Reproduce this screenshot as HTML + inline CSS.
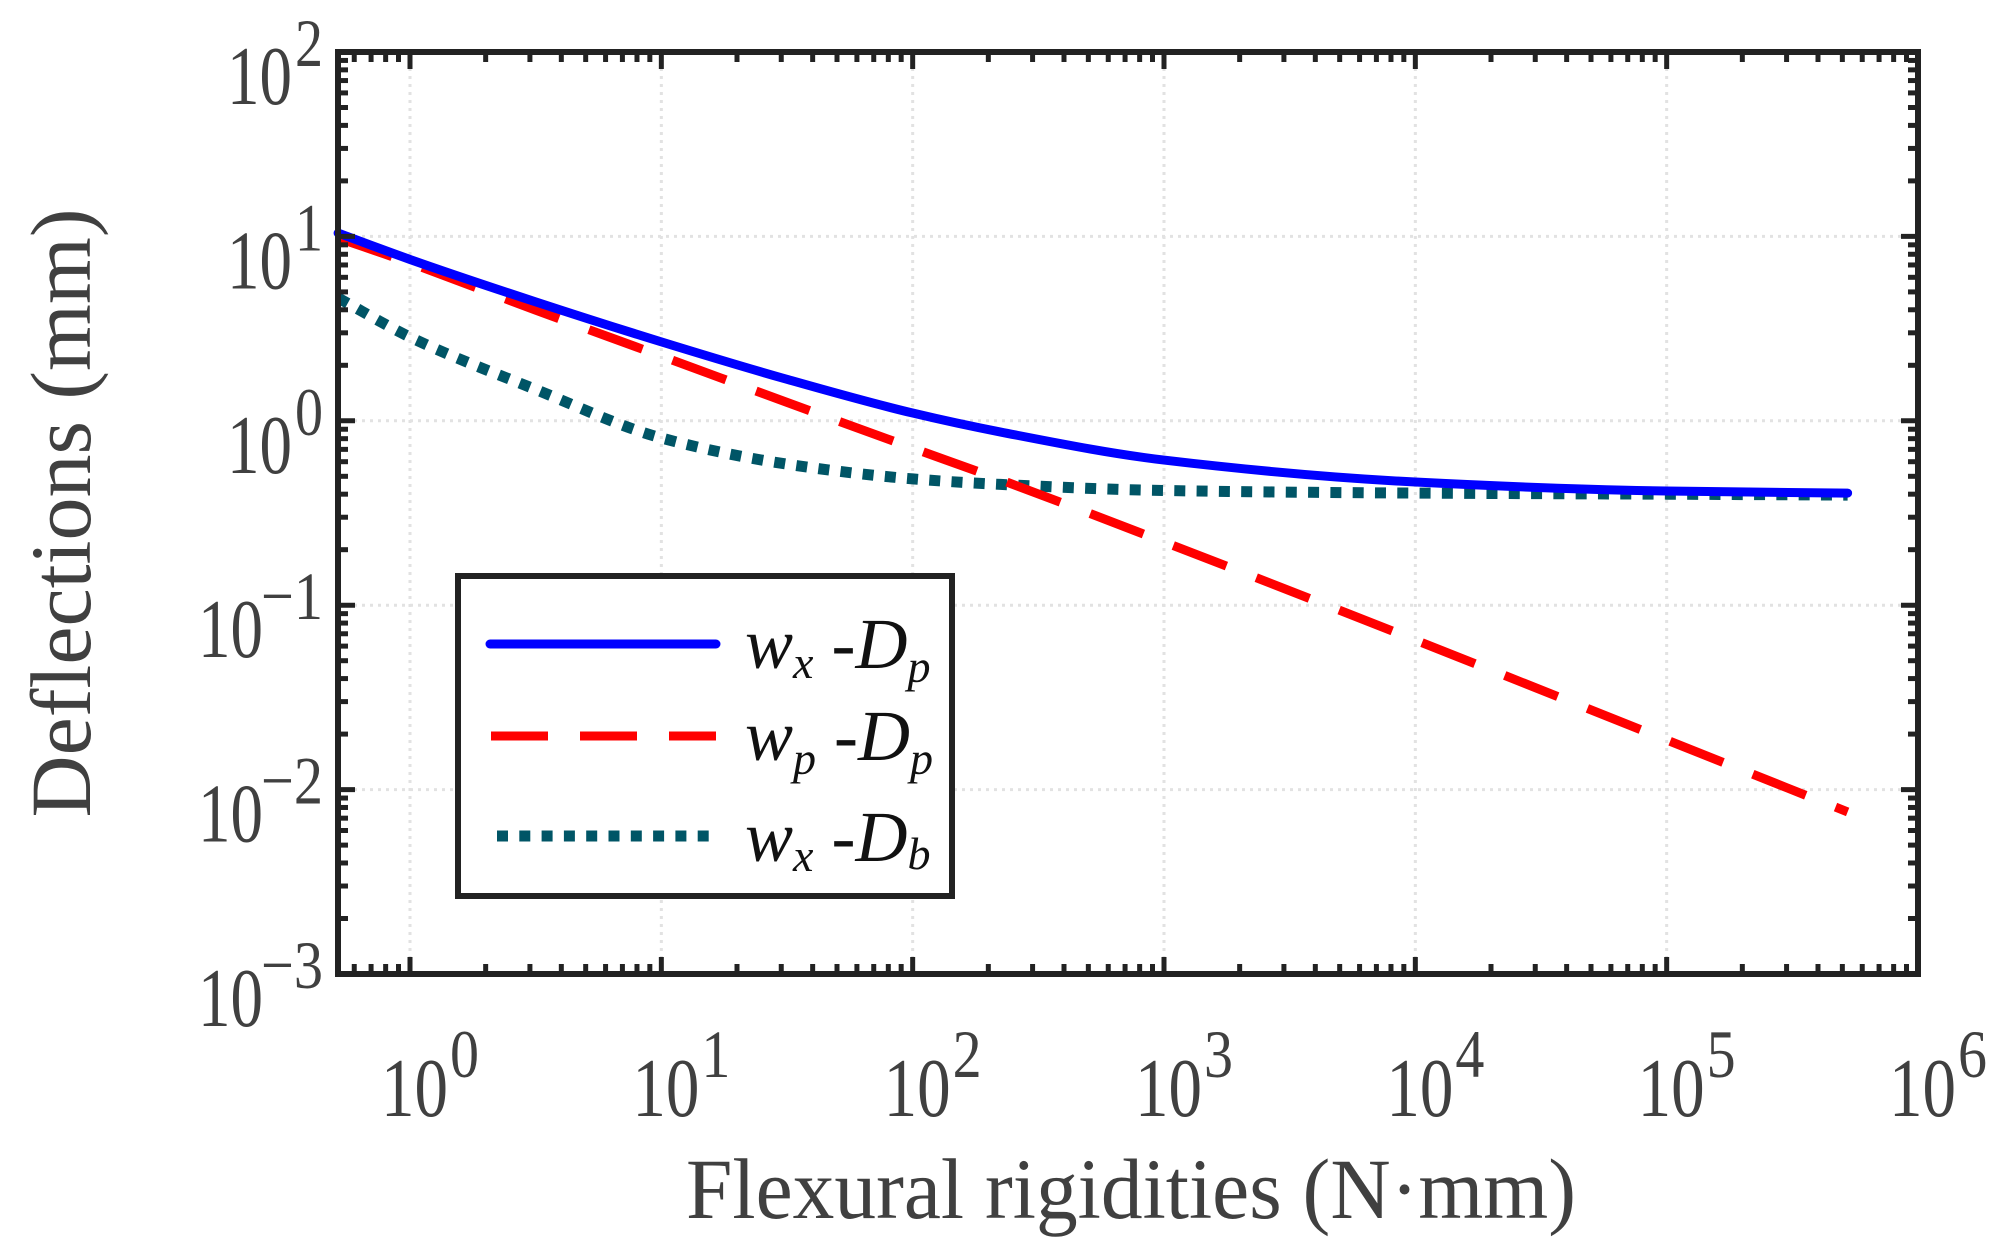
<!DOCTYPE html>
<html><head><meta charset="utf-8"><style>
html,body{margin:0;padding:0;background:#fff;}
svg{display:block;}
text{font-family:"Liberation Serif",serif;}
</style></head><body>
<svg id="chart" width="2012" height="1253" viewBox="0 0 2012 1253" xmlns="http://www.w3.org/2000/svg">
<g id="grid"></g>
<g id="series"></g>
<g id="axes"></g>
<g id="labels"></g>
<text x="686" y="1218" font-size="86" fill="#404040" textLength="890" lengthAdjust="spacingAndGlyphs">Flexural rigidities (N·mm)</text>
<text transform="translate(90,513) rotate(-90)" text-anchor="middle" font-size="86" fill="#404040">Deflections (mm)</text>
<g>
  <rect x="458" y="576" width="494" height="320" fill="#fff" stroke="#222" stroke-width="6"/>
  <line x1="490" y1="644" x2="716" y2="644" stroke="#0000ff" stroke-width="9" stroke-linecap="round"/>
  <line x1="491" y1="736" x2="716" y2="736" stroke="#ff0000" stroke-width="9" stroke-dasharray="57 32"/>
  <line x1="497" y1="836" x2="710" y2="836" stroke="#005566" stroke-width="11" stroke-dasharray="11 11.3"/>
  <text x="745" y="668" font-size="72" fill="#111"><tspan font-style="italic">w</tspan><tspan font-style="italic" font-size="46" dy="10">x</tspan><tspan dy="-10"> -</tspan><tspan font-style="italic">D</tspan><tspan font-style="italic" font-size="46" dy="14">p</tspan></text>
  <text x="745" y="760" font-size="72" fill="#111"><tspan font-style="italic">w</tspan><tspan font-style="italic" font-size="46" dy="14">p</tspan><tspan dy="-14"> -</tspan><tspan font-style="italic">D</tspan><tspan font-style="italic" font-size="46" dy="14">p</tspan></text>
  <text x="745" y="861" font-size="72" fill="#111"><tspan font-style="italic">w</tspan><tspan font-style="italic" font-size="46" dy="10">x</tspan><tspan dy="-10"> -</tspan><tspan font-style="italic">D</tspan><tspan font-style="italic" font-size="46" dy="8">b</tspan></text>
</g>
</svg>
<script>
// data (log10 of values)
const xLogs = [-0.286, 0, 0.5, 1, 1.5, 2, 2.35, 3, 4, 5, 5.72];
const wxDp = [1.018, 0.875, 0.645, 0.428, 0.225, 0.042, -0.061, -0.213, -0.332, -0.381, -0.392];
const wpDp = [0.991, 0.856, 0.6, 0.351, 0.10, -0.148, -0.32, -0.657, -1.189, -1.731, -2.121];
const wxDb = [0.666, 0.454, 0.17, -0.093, -0.235, -0.315, -0.345, -0.378, -0.392, -0.398, -0.403];
const xTickExps = [0, 1, 2, 3, 4, 5, 6];
const yTickExps = [2, 1, 0, -1, -2, -3];

const NS = "http://www.w3.org/2000/svg";
const L = 338, R = 1918, T = 52, B = 974;
const xMinL = -0.2865, xMaxL = 6, yMinL = -3, yMaxL = 2;
function X(l){ return L + (l - xMinL) / (xMaxL - xMinL) * (R - L); }
function Y(l){ return B - (l - yMinL) / (yMaxL - yMinL) * (B - T); }
function mk(tag, attrs, parent){ const e = document.createElementNS(NS, tag); for (const k in attrs) e.setAttribute(k, attrs[k]); parent.appendChild(e); return e; }

const grid = document.getElementById('grid');
const axes = document.getElementById('axes');
const labels = document.getElementById('labels');
const series = document.getElementById('series');

xTickExps.forEach(e => {
  if (e <= xMinL || e >= xMaxL) return;
  const g = mk('line', {x1: X(e), x2: X(e), y1: T, y2: B, stroke: '#e2e2e2', 'stroke-width': 3, 'stroke-dasharray': '3 5'}, grid);
  
  
});
yTickExps.forEach(e => {
  if (e <= yMinL || e >= yMaxL) return;
  const g = mk('line', {x1: L, x2: R, y1: Y(e), y2: Y(e), stroke: '#e2e2e2', 'stroke-width': 3, 'stroke-dasharray': '3 5'}, grid);
  
  
});

function pathFor(ys){
  const xs = xLogs.map(X), yv = ys.map(Y), n = xs.length;
  const dx = [], s = [];
  for (let i = 0; i < n - 1; i++) { dx.push(xs[i+1] - xs[i]); s.push((yv[i+1] - yv[i]) / dx[i]); }
  const m = new Array(n);
  m[0] = s[0]; m[n-1] = s[n-2];
  for (let i = 1; i < n - 1; i++) {
    if (s[i-1] * s[i] <= 0) m[i] = 0;
    else { const w1 = 2*dx[i] + dx[i-1], w2 = dx[i] + 2*dx[i-1]; m[i] = (w1 + w2) / (w1 / s[i-1] + w2 / s[i]); }
  }
  let d = 'M' + xs[0] + ',' + yv[0];
  for (let i = 0; i < n - 1; i++) {
    const h = dx[i] / 3;
    d += ' C' + (xs[i] + h) + ',' + (yv[i] + m[i]*h) + ' ' + (xs[i+1] - h) + ',' + (yv[i+1] - m[i+1]*h) + ' ' + xs[i+1] + ',' + yv[i+1];
  }
  return d;
}
const s3 = mk('path', {d: pathFor(wxDb), fill: 'none', stroke: '#005566', 'stroke-width': 11, 'stroke-dasharray': '11 11.3'}, series);


const s2 = mk('path', {d: pathFor(wpDp), fill: 'none', stroke: '#ff0000', 'stroke-width': 9, 'stroke-dasharray': '57 32'}, series);


const s1 = mk('path', {d: pathFor(wxDp), fill: 'none', stroke: '#0000ff', 'stroke-width': 9, 'stroke-linecap': 'round'}, series);



function tick(x1, y1, x2, y2){
  const t = mk('line', {x1, y1, x2, y2, stroke: '#222', 'stroke-width': 5}, axes);
  
  
}
for (let d = -1; d <= 6; d++) for (let k = 1; k <= 9; k++) {
  const l = d + Math.log10(k);
  if (l <= xMinL || l >= xMaxL) continue;
  const len = k === 1 ? 17 : 10, x = X(l);
  tick(x, B, x, B - len); tick(x, T, x, T + len);
}
for (let d = -3; d <= 2; d++) for (let k = 1; k <= 9; k++) {
  const l = d + Math.log10(k);
  if (l <= yMinL || l >= yMaxL) continue;
  const len = k === 1 ? 17 : 10, y = Y(l);
  tick(L, y, L + len, y); tick(R, y, R - len, y);
}
const box = mk('rect', {x: L, y: T, width: R - L, height: B - T, fill: 'none', stroke: '#222', 'stroke-width': 6}, axes);



function txt(x, y, s, size, len, anchor){
  const t = mk('text', {x, y, 'font-size': size, fill: '#404040', textLength: len, lengthAdjust: 'spacingAndGlyphs', 'text-anchor': anchor || 'start'}, labels);
  t.textContent = s;
  return t;
}
xTickExps.forEach(e => {
  const x = X(e);
  const a = txt(x - 29, 1116, '10', 84, 67);
  
  
  const b = txt(x + 40, 1077, String(e), 68, 29);
  
  
});
yTickExps.forEach(e => {
  const y = Y(e);
  const s = e < 0 ? '−' + (-e) : String(e);
  const w = e < 0 ? 62 : 28;
  const supStart = 323 - w;
  const b = txt(supStart, y + 14, s, 68, w);
  
  
  const a = txt(supStart - (e < 0 ? -2 : 3) - 65, y + 52, '10', 84, 65);
  
  
});
</script>
</body></html>
